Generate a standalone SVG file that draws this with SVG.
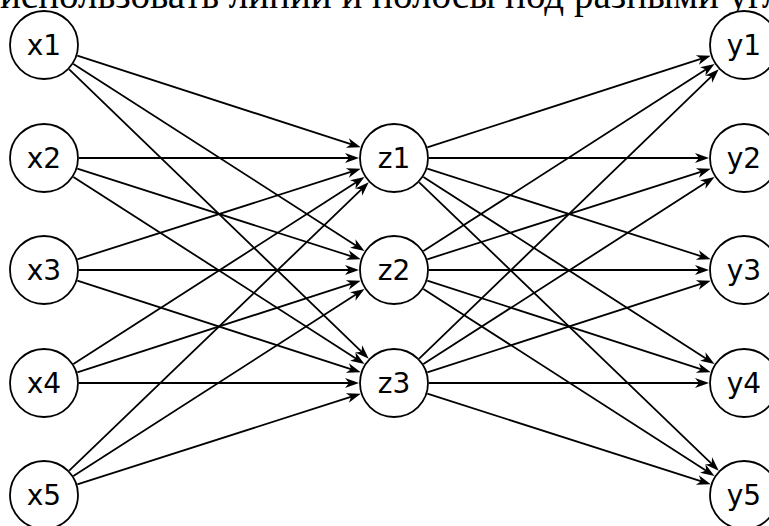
<svg xmlns="http://www.w3.org/2000/svg" width="769" height="526" viewBox="0 0 769 526">
<style>
.node circle{fill:#fff;stroke:#000;stroke-width:1.8}
.node text{font-family:"DejaVu Sans",sans-serif;font-size:28px;text-anchor:middle;fill:#000}
#edges line{stroke:#000;stroke-width:1.8;marker-end:url(#arr)}
.top{font-family:"Liberation Serif",serif;font-size:39px;fill:#000}
</style>
<defs>
<marker id="arr" markerUnits="userSpaceOnUse" markerWidth="15" markerHeight="11" refX="6" refY="5" orient="auto" overflow="visible">
<path d="M0,0 L14,5 L0,10 L4,5 Z" fill="#000"/>
</marker>
</defs>
<rect width="769" height="526" fill="#fff"/>
<text class="top" x="0" y="8">использовать линии и полосы под разными углами</text>
<g id="edges">
<line x1="77.3" y1="55.7" x2="353.1" y2="144.8"/>
<line x1="73.4" y1="63.9" x2="357.8" y2="246.7"/>
<line x1="69.2" y1="69.3" x2="363.0" y2="353.1"/>
<line x1="79" y1="158" x2="351" y2="158"/>
<line x1="77.3" y1="168.7" x2="353.1" y2="256.8"/>
<line x1="73.4" y1="176.9" x2="357.8" y2="359.7"/>
<line x1="77.3" y1="259.3" x2="353.1" y2="171.2"/>
<line x1="79" y1="270" x2="351" y2="270"/>
<line x1="77.3" y1="280.7" x2="353.1" y2="369.8"/>
<line x1="73.4" y1="364.1" x2="357.8" y2="181.3"/>
<line x1="77.3" y1="372.3" x2="353.1" y2="283.2"/>
<line x1="79" y1="383" x2="351" y2="383"/>
<line x1="69.2" y1="470.7" x2="363.0" y2="187.9"/>
<line x1="73.4" y1="476.1" x2="357.8" y2="293.3"/>
<line x1="77.3" y1="484.3" x2="353.1" y2="396.2"/>
<line x1="427.3" y1="147.3" x2="703.1" y2="58.2"/>
<line x1="429" y1="158" x2="701" y2="158"/>
<line x1="427.3" y1="168.7" x2="703.1" y2="256.8"/>
<line x1="423.4" y1="176.9" x2="707.8" y2="359.7"/>
<line x1="419.2" y1="182.3" x2="713.0" y2="465.1"/>
<line x1="423.4" y1="251.1" x2="707.8" y2="68.3"/>
<line x1="427.3" y1="259.3" x2="703.1" y2="171.2"/>
<line x1="429" y1="270" x2="701" y2="270"/>
<line x1="427.3" y1="280.7" x2="703.1" y2="369.8"/>
<line x1="423.4" y1="288.9" x2="707.8" y2="471.7"/>
<line x1="419.2" y1="358.7" x2="713.0" y2="74.9"/>
<line x1="423.4" y1="364.1" x2="707.8" y2="181.3"/>
<line x1="427.3" y1="372.3" x2="703.1" y2="283.2"/>
<line x1="429" y1="383" x2="701" y2="383"/>
<line x1="427.3" y1="393.7" x2="703.1" y2="481.8"/>
</g>
<g id="x1" class="node"><circle cx="44" cy="45" r="34"/><text x="44" y="55">x1</text></g>
<g id="x2" class="node"><circle cx="44" cy="158" r="34"/><text x="44" y="168">x2</text></g>
<g id="x3" class="node"><circle cx="44" cy="270" r="34"/><text x="44" y="280">x3</text></g>
<g id="x4" class="node"><circle cx="44" cy="383" r="34"/><text x="44" y="393">x4</text></g>
<g id="x5" class="node"><circle cx="44" cy="495" r="34"/><text x="44" y="505">x5</text></g>
<g id="z1" class="node"><circle cx="394" cy="158" r="34"/><text x="394" y="168">z1</text></g>
<g id="z2" class="node"><circle cx="394" cy="270" r="34"/><text x="394" y="280">z2</text></g>
<g id="z3" class="node"><circle cx="394" cy="383" r="34"/><text x="394" y="393">z3</text></g>
<g id="y1" class="node"><circle cx="744" cy="45" r="34"/><text x="744" y="55">y1</text></g>
<g id="y2" class="node"><circle cx="744" cy="158" r="34"/><text x="744" y="168">y2</text></g>
<g id="y3" class="node"><circle cx="744" cy="270" r="34"/><text x="744" y="280">y3</text></g>
<g id="y4" class="node"><circle cx="744" cy="383" r="34"/><text x="744" y="393">y4</text></g>
<g id="y5" class="node"><circle cx="744" cy="495" r="34"/><text x="744" y="505">y5</text></g>
</svg>
